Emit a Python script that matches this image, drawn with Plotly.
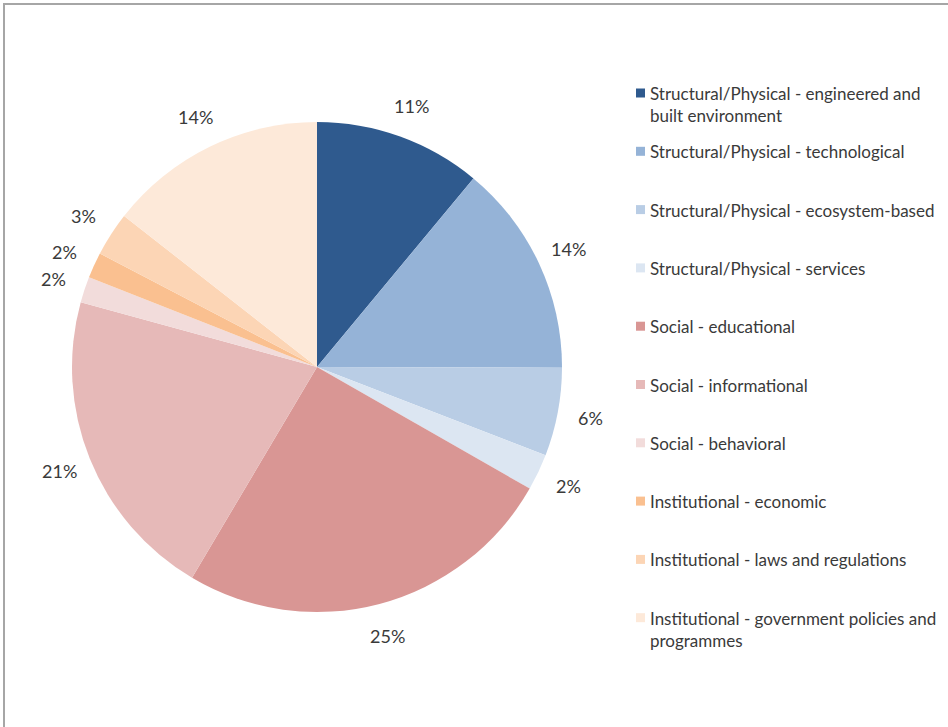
import math
import plotly.graph_objects as go

categories = [
    "Structural/Physical - engineered and built environment",
    "Structural/Physical - technological",
    "Structural/Physical - ecosystem-based",
    "Structural/Physical - services",
    "Social - educational",
    "Social - informational",
    "Social - behavioral",
    "Institutional - economic",
    "Institutional - laws and regulations",
    "Institutional - government policies and programmes",
]
legend_text = [
    "Structural/Physical - engineered and<br>built environment",
    "Structural/Physical - technological",
    "Structural/Physical - ecosystem-based",
    "Structural/Physical - services",
    "Social - educational",
    "Social - informational",
    "Social - behavioral",
    "Institutional - economic",
    "Institutional - laws and regulations",
    "Institutional - government policies and<br>programmes",
]
values = [11.0, 14.0, 5.8, 2.4, 25.2, 20.7, 1.7, 1.7, 2.9, 14.4]
colors = ["#2F5A8E", "#95B3D7", "#B9CDE5", "#DCE6F2", "#D99694",
          "#E6B9B8", "#F2DCDB", "#FAC090", "#FCD5B5", "#FDE9D9"]

W, H = 948, 727
cx, cy, R = 317, 367, 245
FONT = "Lato"
TXT = "#3A3A3A"

fig = go.Figure(go.Pie(
    labels=categories, values=values, sort=False, direction="clockwise",
    rotation=0, marker=dict(colors=colors, line=dict(width=0)),
    textinfo="none", hoverinfo="label+percent", showlegend=False,
    domain=dict(x=[(cx - R) / W, (cx + R) / W], y=[1 - (cy + R) / H, 1 - (cy - R) / H]),
))

total = sum(values)
annotations = []
cum = 0.0
lr = 278
for v in values:
    mid = (cum + v / 2) / total * 2 * math.pi
    cum += v
    px = cx + lr * math.sin(mid)
    py = cy - lr * math.cos(mid)
    annotations.append(dict(
        x=px / W, y=1 - py / H, xref="paper", yref="paper",
        text=f"{round(v / total * 100)}%", showarrow=False,
        font=dict(family=FONT, size=18, color=TXT),
        xanchor="center", yanchor="middle"))

shapes = []
row0, step = 93, 58.3
for i, (t, c) in enumerate(zip(legend_text, colors)):
    ry = row0 + i * step
    shapes.append(dict(type="rect", xref="paper", yref="paper",
                       x0=636 / W, x1=645 / W, y0=1 - (ry + 4.5) / H, y1=1 - (ry - 4.5) / H,
                       fillcolor=c, line=dict(width=0)))
    annotations.append(dict(
        x=648 / W, y=1 - (ry - 12) / H, xref="paper", yref="paper",
        text=t, showarrow=False, align="left",
        font=dict(family=FONT, size=17, color=TXT),
        xanchor="left", yanchor="top"))

shapes.append(dict(type="rect", xref="paper", yref="paper",
                   x0=4 / W, x1=1.05, y0=-0.05, y1=1 - 4 / H,
                   line=dict(color="#A6A6A6", width=2), fillcolor="rgba(0,0,0,0)"))

fig.update_layout(
    width=W, height=H, margin=dict(l=0, r=0, t=0, b=0),
    paper_bgcolor="white", plot_bgcolor="white",
    annotations=annotations, shapes=shapes, showlegend=False,
)
fig.write_html("out.html")
